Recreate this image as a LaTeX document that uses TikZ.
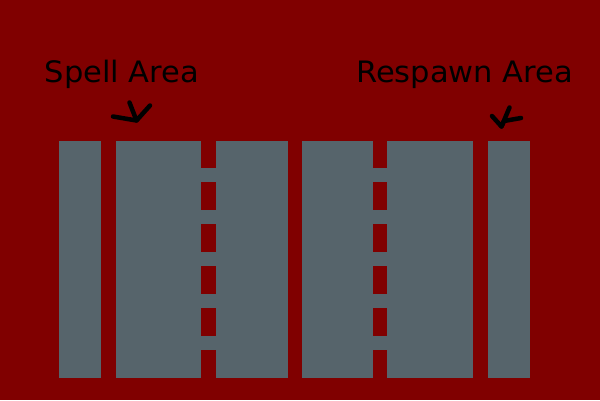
\documentclass[tikz,border=0pt]{standalone}
\usepackage{fontspec}
\setmainfont{DejaVu Sans}
\definecolor{bgred}{HTML}{800000}
\definecolor{lanegray}{HTML}{56646B}
\begin{document}
\begin{tikzpicture}[x=1pt,y=-1pt,
  lane/.style={fill=lanegray,draw=none},
  gapblock/.style={fill=bgred,draw=none},
  label/.style={anchor=base west,inner sep=0pt,font=\fontsize{29.5}{34}\selectfont,text=black,xscale=1.035},
  scribble/.style={draw=black,line width=4.5pt,line cap=round,line join=round}]
\fill[bgred] (0,0) rectangle (600,400);
\useasboundingbox (0,0) rectangle (600,400);
% lanes
\fill[lane] (58.5,140.5) rectangle (101,377.5);
\fill[lane] (116,140.5) rectangle (287.5,377.5);
\fill[lane] (302,140.5) rectangle (473,377.5);
\fill[lane] (488,140.5) rectangle (530,377.5);
% dashed separators
\foreach \x in {201.3,373} {
  \foreach \y in {140.5,182.3,224.3,266.1,308,349.8} {
    \fill[gapblock] (\x,\y) rectangle ++(14.3,27.7);
  }
}
% labels
\node[label] (spell) at (44.5,82.5) {Spell Area};
\node[label] (respawn) at (356,82.5) {Respawn Area};
% hand-drawn arrows
\coordinate (sv) at (136.5,120.5);
\draw[scribble] (113,116.5) -- (sv);
\draw[scribble] (129.5,102.5) -- (sv) -- (150,105.5);
\coordinate (rv) at (501.5,126.5);
\draw[scribble] (492,116) -- (rv) -- (509.5,107.5);
\draw[scribble] (rv) -- (504,121) -- (521,118);
\end{tikzpicture}
\end{document}
